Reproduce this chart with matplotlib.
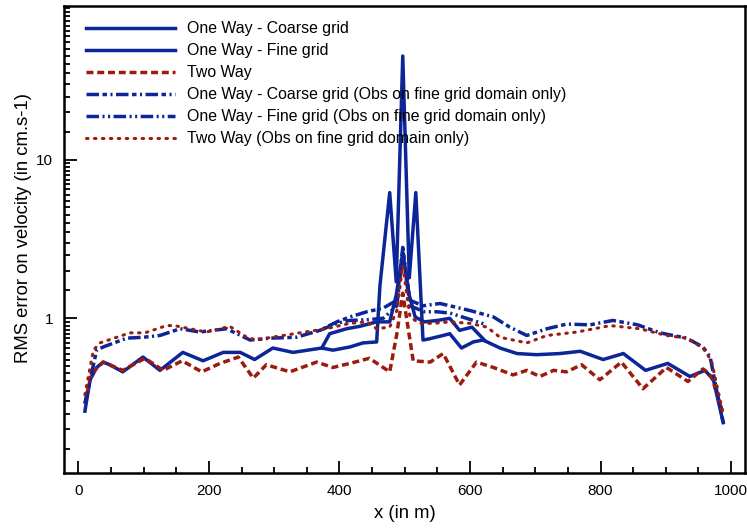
import numpy as np
import matplotlib
matplotlib.use('Agg')
from matplotlib import pyplot as plt
from matplotlib.ticker import MultipleLocator, LogLocator, FuncFormatter, NullFormatter

plt.rcParams['font.family'] = ['Liberation Sans', 'DejaVu Sans']

# data (x in m, RMS error in cm/s)
x_ow_coarse = [10, 18, 28, 38, 48, 68, 99, 125, 160, 191, 222, 248, 270, 298, 329, 373, 390, 416,
               436, 457, 462, 477, 487, 497, 507, 517, 528, 536, 559, 569, 587, 605, 620, 646,
               672, 702, 738, 769, 804, 835, 869, 903, 937, 960, 973, 988]
y_ow_coarse = [0.26, 0.41, 0.49, 0.53, 0.51, 0.46, 0.57, 0.47, 0.61, 0.54, 0.61, 0.61, 0.55, 0.65,
               0.61, 0.65, 0.63, 0.66, 0.70, 0.71, 1.6, 6.2, 1.7, 45, 1.8, 6.2, 0.73, 0.74, 0.78,
               0.80, 0.65, 0.71, 0.73, 0.65, 0.60, 0.59, 0.60, 0.62, 0.55, 0.60, 0.47, 0.52,
               0.43, 0.47, 0.41, 0.22]

x_ow_fine = [373, 385, 411, 431, 457, 477, 487, 497, 507, 516, 530, 550, 569, 584, 603, 622]
y_ow_fine = [0.65, 0.80, 0.86, 0.89, 0.95, 0.95, 1.4, 2.6, 1.4, 1.02, 0.95, 0.97, 1.0, 0.84, 0.88, 0.73]

x_tw = [10, 20, 38, 68, 102, 130, 159, 189, 217, 245, 268, 288, 324, 365, 390, 416, 446, 477,
        488, 497, 508, 513, 539, 559, 584, 610, 636, 666, 687, 707, 728, 748, 771, 799, 832,
        865, 901, 934, 957, 970, 988]
y_tw = [0.29, 0.45, 0.53, 0.47, 0.56, 0.47, 0.54, 0.46, 0.52, 0.57, 0.42, 0.51, 0.46, 0.53, 0.49,
        0.52, 0.56, 0.46, 0.80, 1.44, 0.73, 0.54, 0.53, 0.60, 0.38, 0.53, 0.49, 0.44, 0.47,
        0.43, 0.47, 0.46, 0.51, 0.41, 0.53, 0.36, 0.49, 0.40, 0.48, 0.43, 0.25]

x_ow_coarse_obs = [10, 28, 38, 74, 100, 125, 156, 186, 227, 263, 294, 334, 370, 396, 416, 442,
                   467, 488, 497, 508, 528, 554, 569, 600, 636, 661, 687, 718, 748, 784, 819,
                   857, 891, 932, 957, 968, 978, 988]
y_ow_coarse_obs = [0.29, 0.63, 0.66, 0.75, 0.76, 0.78, 0.86, 0.82, 0.86, 0.73, 0.75, 0.76, 0.84,
                   0.95, 1.02, 1.10, 1.16, 1.3, 2.8, 1.3, 1.2, 1.24, 1.2, 1.12, 1.02, 0.88, 0.78,
                   0.86, 0.92, 0.91, 0.97, 0.91, 0.81, 0.75, 0.66, 0.57, 0.35, 0.22]

x_ow_fine_obs = [370, 396, 416, 442, 467, 488, 497, 508, 530, 549, 569, 595, 622]
y_ow_fine_obs = [0.84, 0.93, 0.97, 0.98, 1.0, 1.2, 2.6, 1.2, 1.1, 1.1, 1.08, 1.0, 0.92]

x_tw_obs = [10, 23, 33, 79, 102, 135, 147, 196, 232, 258, 273, 288, 339, 380, 416, 442, 457,
            477, 488, 497, 508, 523, 544, 569, 600, 626, 646, 687, 718, 764, 815, 860, 901,
            932, 957, 970, 980, 988]
y_tw_obs = [0.33, 0.63, 0.70, 0.81, 0.81, 0.90, 0.90, 0.82, 0.89, 0.76, 0.73, 0.75, 0.81, 0.86,
            0.93, 0.95, 0.86, 0.88, 1.12, 2.15, 1.02, 0.93, 0.93, 0.95, 0.93, 0.88, 0.76, 0.70,
            0.78, 0.82, 0.90, 0.86, 0.78, 0.75, 0.65, 0.54, 0.35, 0.25]

blue = '#0c2597'
red = '#9c1b0d'
lw = 2.5

fig = plt.figure(figsize=(7.47, 5.28), dpi=100)
ax = fig.add_axes([0.0857, 0.1042, 0.9113, 0.8844])

ax.plot(x_ow_coarse, y_ow_coarse, color=blue, lw=lw, label='One Way - Coarse grid')
ax.plot(x_ow_fine, y_ow_fine, color=blue, lw=lw, label='One Way - Fine grid')
ax.plot(x_tw, y_tw, color=red, lw=lw, linestyle=(0, (2.0, 1.1)), label='Two Way')
ax.plot(x_ow_coarse_obs, y_ow_coarse_obs, color=blue, lw=lw,
        linestyle=(0, (3.6, 1.0, 1.3, 1.0, 0.6, 1.0)),
        label='One Way - Coarse grid (Obs on fine grid domain only)')
ax.plot(x_ow_fine_obs, y_ow_fine_obs, color=blue, lw=lw,
        linestyle=(0, (3.6, 1.0, 0.6, 1.0, 0.6, 1.0)),
        label='One Way - Fine grid (Obs on fine grid domain only)')
ax.plot(x_tw_obs, y_tw_obs, color=red, lw=2.2, linestyle=(0, (0.5, 2.1)), dash_capstyle='round',
        label='Two Way (Obs on fine grid domain only)')

ax.set_yscale('log')
ax.set_xlim(-22, 1021)
ax.set_ylim(0.106, 93)

ax.xaxis.set_major_locator(MultipleLocator(200))
ax.xaxis.set_minor_locator(MultipleLocator(50))
ax.yaxis.set_major_locator(LogLocator(base=10))
ax.yaxis.set_minor_locator(LogLocator(base=10, subs=np.arange(1.5, 10, 0.5)))
ax.yaxis.set_major_formatter(FuncFormatter(lambda v, p: '%g' % v))
ax.yaxis.set_minor_formatter(NullFormatter())

ax.tick_params(which='both', direction='in', top=False, right=False, labelsize=11, width=1.3)
ax.tick_params(which='major', length=9, pad=8)
ax.tick_params(which='minor', length=4.5)
for s in ax.spines.values():
    s.set_linewidth(1.8)

ax.set_xlabel('x (in m)', fontsize=13.3, labelpad=5)
ax.set_ylabel('RMS error on velocity (in cm.s-1)', fontsize=13.3, labelpad=3, y=0.525)

ax.legend(loc='upper left', frameon=False, fontsize=11.4, handlelength=5.6,
          labelspacing=0.44, handletextpad=0.75, borderaxespad=0.3, bbox_to_anchor=(0.016, 0.991))

plt.savefig('out.png', dpi=100)
